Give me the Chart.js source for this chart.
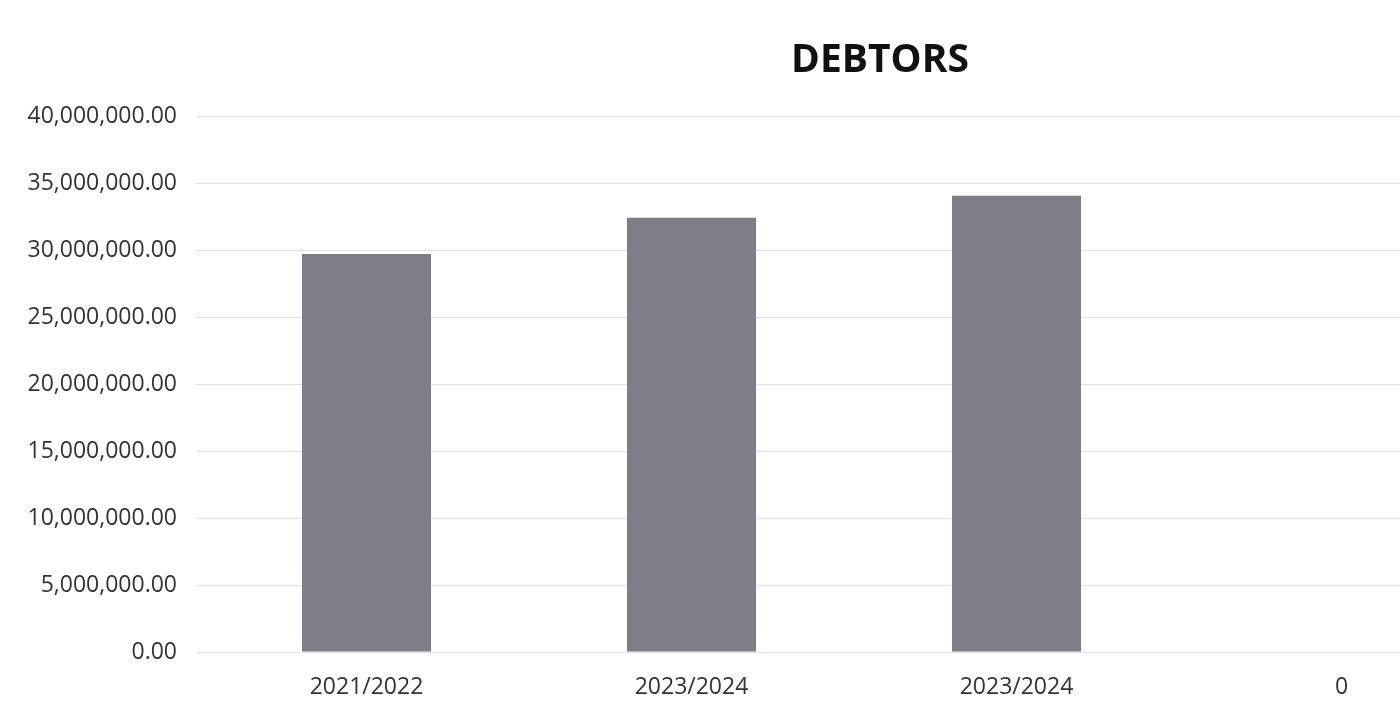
<!DOCTYPE html>
<html>
<head>
<meta charset="utf-8">
<title>DEBTORS</title>
<script src="https://cdn.jsdelivr.net/npm/chart.js@4/dist/chart.umd.min.js"></script>
<style>
  html, body { margin: 0; padding: 0; background: #ffffff; overflow: hidden; }
  #wrap { position: relative; width: 1732px; height: 703px; }
</style>
</head>
<body>
<div id="wrap"><canvas id="debtors" width="1732" height="703"></canvas></div>
<script>
// Debtor balances per financial year
const categories = ["2021/2022", "2023/2024", "2023/2024", "0"];
const debtorValues = [29750000, 32450000, 34100000, null];
const yTickMin = 0;
const yTickMax = 40000000;
const yTickStep = 5000000;

const fmt = new Intl.NumberFormat("en-US", { minimumFractionDigits: 2, maximumFractionDigits: 2 });
const tickFont = { family: "'Open Sans', sans-serif", size: 23 };

new Chart(document.getElementById("debtors"), {
  type: "bar",
  data: {
    labels: categories,
    datasets: [{
      label: "DEBTORS",
      data: debtorValues,
      backgroundColor: "#7e7d88",
      borderWidth: 0,
      categoryPercentage: 1.0,
      barPercentage: 0.397,
      yAxisID: "y"
    }]
  },
  options: {
    responsive: false,
    animation: false,
    layout: { padding: { left: 28, right: 0, top: 0, bottom: 0 } },
    plugins: {
      legend: { display: false },
      tooltip: { enabled: false },
      title: {
        display: true,
        text: "DEBTORS",
        color: "#111111",
        font: { family: "'Open Sans', sans-serif", size: 39, weight: "bold" },
        padding: { top: 37, bottom: 33 }
      }
    },
    scales: {
      x: {
        grid: { display: false },
        border: { display: false },
        ticks: { color: "#333333", font: tickFont, padding: 14 },
        afterFit: (scale) => { scale.height = 51; }
      },
      y: {
        min: yTickMin,
        max: yTickMax,
        border: { display: false },
        grid: { color: "#dfdfec", lineWidth: 1, tickLength: 8 },
        ticks: {
          stepSize: yTickStep,
          color: "#333333",
          font: tickFont,
          padding: 19,
          callback: (v) => fmt.format(v)
        },
        afterFit: (scale) => { scale.width = 176; }
      },
      // empty right-hand gutter: the plot runs past the visible edge
      gutter: {
        position: "right",
        display: true,
        grid: { display: false },
        border: { display: false },
        ticks: { display: false },
        afterFit: (scale) => { scale.width = 228; }
      }
    }
  }
});
</script>
</body>
</html>
